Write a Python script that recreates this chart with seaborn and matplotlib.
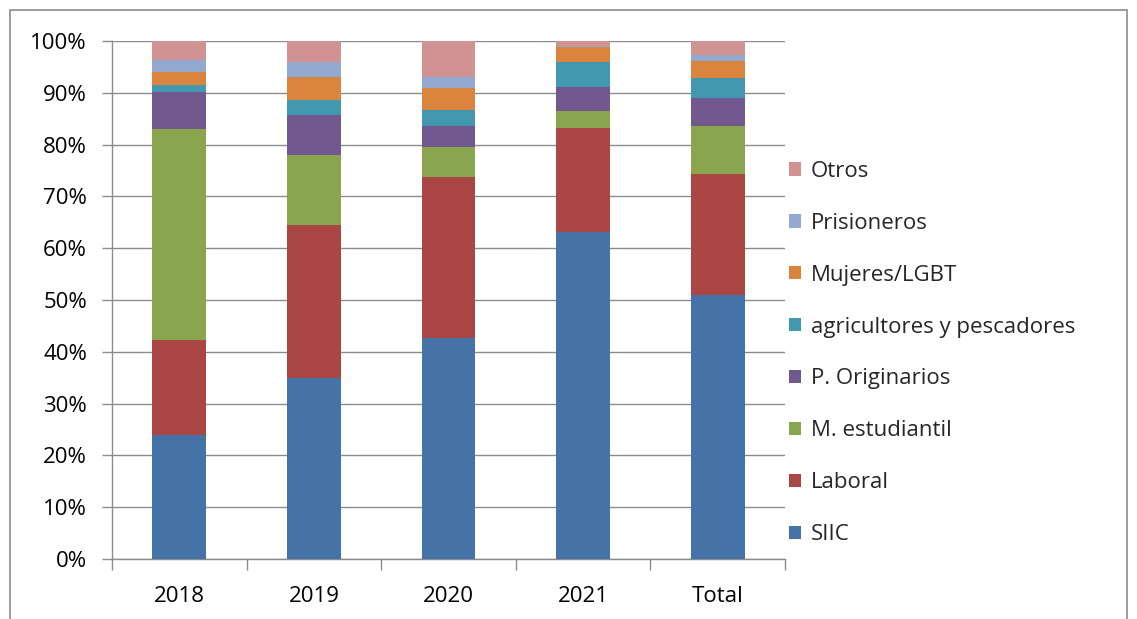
import matplotlib
matplotlib.use("Agg")
import matplotlib.pyplot as plt
from matplotlib.patches import Patch, Rectangle
from matplotlib.ticker import FuncFormatter, FixedLocator
import seaborn as sns
import pandas as pd
import numpy as np

categories = ["2018", "2019", "2020", "2021", "Total"]
series = ["SIIC", "Laboral", "M. estudiantil", "P. Originarios",
          "agricultores y pescadores", "Mujeres/LGBT", "Prisioneros", "Otros"]
siic = [23.9, 34.9, 42.7, 63.1, 51.0]
laboral = [18.4, 29.6, 31.1, 20.1, 23.3]
estudiantil = [40.8, 13.5, 5.7, 3.2, 9.3]
originarios = [7.0, 7.7, 4.0, 4.7, 5.3]
agricultores = [1.5, 3.0, 3.2, 4.8, 4.0]
mujeres = [2.5, 4.4, 4.3, 2.9, 3.2]
prisioneros = [2.2, 2.8, 2.1, 0.3, 1.2]
otros = [3.7, 4.1, 6.9, 0.9, 2.7]
values = [siic, laboral, estudiantil, originarios, agricultores, mujeres, prisioneros, otros]
colors = ["#4572A7", "#AA4643", "#89A54E", "#71588F", "#4198AF", "#DB843D", "#93A9CF", "#D19392"]

sns.set_style("white")
plt.rcParams["font.family"] = ["Open Sans", "DejaVu Sans"]

W, H = 1137, 619
fig = plt.figure(figsize=(W / 100, H / 100), dpi=100)
ax = fig.add_axes([112 / W, 1 - 559 / H, (785 - 112) / W, (559 - 41) / H])

# cumulative stacking: draw tallest first
cum = np.cumsum(np.array(values), axis=0)
for i in range(len(series) - 1, -1, -1):
    df = pd.DataFrame({"cat": categories, "val": cum[i]})
    sns.barplot(data=df, x="cat", y="val", color=colors[i], width=0.4,
                linewidth=0, saturation=1, ax=ax, zorder=3)

ax.set_xlim(-0.5, len(categories) - 0.5)
ax.set_ylim(0, 100)
ax.set_yticks(np.arange(0, 101, 10))
ax.yaxis.set_major_formatter(FuncFormatter(lambda v, p: f"{int(round(v))}%"))
ax.grid(axis="y", color="#8c8c8c", linewidth=1, zorder=0)
ax.set_axisbelow(True)
ax.set_xlabel("")
ax.set_ylabel("")
for s in ["top", "right"]:
    ax.spines[s].set_visible(False)
for s in ["left", "bottom"]:
    ax.spines[s].set_color("#8c8c8c")
    ax.spines[s].set_linewidth(1)
ax.tick_params(axis="y", direction="out", length=7, width=1, color="#8c8c8c",
               pad=11, labelsize=16, labelcolor="#000000", left=True)
ax.tick_params(axis="x", length=0, pad=19.5, labelsize=16, labelcolor="#000000")
ax.xaxis.set_minor_locator(FixedLocator(np.arange(-0.5, len(categories), 1.0)))
ax.tick_params(axis="x", which="minor", direction="out", length=8, width=1,
               color="#8c8c8c", bottom=True)

handles = [Patch(facecolor=c, edgecolor="none") for c in colors]
leg = fig.legend(handles[::-1], series[::-1], loc="upper left",
                 bbox_to_anchor=(780 / W, 1 - 152 / H), frameon=False,
                 fontsize=16, handlelength=0.55, handleheight=0.55,
                 handletextpad=0.45, labelspacing=1.39, borderaxespad=0)

# outer chart frame
fig.patches.append(Rectangle((10 / W, -0.05), (1127 - 10) / W, 1 - 10 / H + 0.05,
                             transform=fig.transFigure, fill=False,
                             edgecolor="#8c8c8c", linewidth=1.2))

fig.savefig("out.png", dpi=100, facecolor="white")
